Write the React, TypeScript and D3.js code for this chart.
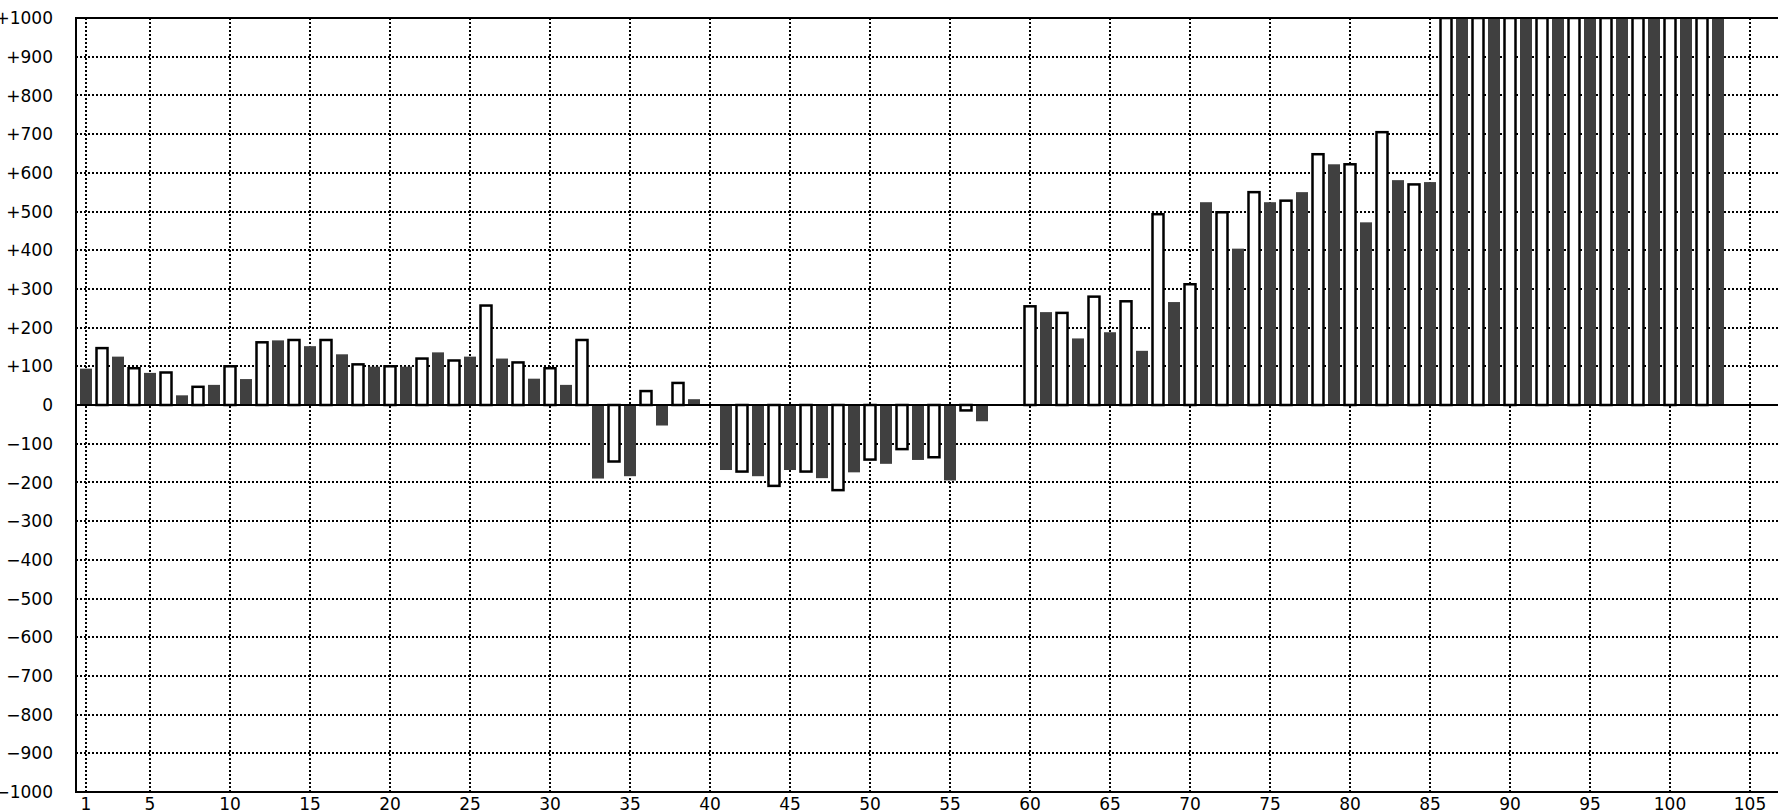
import React from "react";
import * as d3 from "d3";

// Odd positions (1, 3, 5, ... 103) – dark filled bars
const darkPositions: number[] = [
  1, 3, 5, 7, 9, 11, 13, 15, 17, 19, 21, 23, 25, 27, 29, 31, 33, 35, 37, 39, 41, 43, 45, 47, 49, 51,
  53, 55, 57, 59, 61, 63, 65, 67, 69, 71, 73, 75, 77, 79, 81, 83, 85, 87, 89, 91, 93, 95, 97, 99, 101, 103,
];
const darkValues: (number | null)[] = [
  94, 125, 83, 25, 52, 67, 167, 152, 131, 99, 99, 136, 125, 120, 68, 52, -190, -184, -53, 15, -168, -184,
  -168, -189, -174, -152, -142, -195, -42, null, 240, 172, 188, 140, 266, 524, 404, 524, 550, 622, 472, 581,
  576, 1000, 1000, 1000, 1000, 1000, 1000, 1000, 1000, 1000,
];

// Even positions (2, 4, 6, ... 102) – outlined white bars
const lightPositions: number[] = [
  2, 4, 6, 8, 10, 12, 14, 16, 18, 20, 22, 24, 26, 28, 30, 32, 34, 36, 38, 40, 42, 44, 46, 48, 50, 52,
  54, 56, 58, 60, 62, 64, 66, 68, 70, 72, 74, 76, 78, 80, 82, 84, 86, 88, 90, 92, 94, 96, 98, 100, 102,
];
const lightValues: (number | null)[] = [
  147, 95, 84, 47, 100, 162, 168, 168, 105, 100, 120, 115, 257, 110, 95, 168, -146, 36, 57, null, -172, -209,
  -172, -220, -141, -114, -135, -14, null, 255, 238, 280, 268, 493, 312, 498, 550, 528, 648, 622, 705, 570,
  1000, 1000, 1000, 1000, 1000, 1000, 1000, 1000, 1000,
];

const xTicks: number[] = [1, 5, 10, 15, 20, 25, 30, 35, 40, 45, 50, 55, 60, 65, 70, 75, 80, 85, 90, 95, 100, 105];
const yTicks: number[] = [
  -1000, -900, -800, -700, -600, -500, -400, -300, -200, -100, 0, 100, 200, 300, 400, 500, 600, 700, 800, 900, 1000,
];

const W = 1778;
const H = 812;
const plotLeft = 76;
const plotRight = 1800;
const plotTop = 18;
const plotBottom = 792;
const FONT = "'DejaVu Sans', Verdana, sans-serif";
const DARK = "#404040";

function fmtY(v: number): string {
  if (v > 0) return "+" + v;
  if (v < 0) return "\u2212" + Math.abs(v);
  return "0";
}

export default function App() {
  const x = d3.scaleLinear().domain([0, 105]).range([70, 1750]);
  const y = d3.scaleLinear().domain([-1000, 1000]).range([plotBottom, plotTop]);
  const y0 = y(0);
  const darkW = 12;
  const lightW = 11;

  const dark = darkPositions
    .map((p, i) => ({ p, v: darkValues[i] }))
    .filter((d) => d.v !== null) as { p: number; v: number }[];
  const light = lightPositions
    .map((p, i) => ({ p, v: lightValues[i] }))
    .filter((d) => d.v !== null) as { p: number; v: number }[];

  return (
    <svg
      width={W}
      height={H}
      style={{ position: "absolute", left: 0, top: 0, background: "#fff" }}
    >
      <defs>
        <clipPath id="plotclip">
          <rect x={plotLeft} y={plotTop} width={plotRight - plotLeft} height={plotBottom - plotTop} />
        </clipPath>
      </defs>
      <rect x={0} y={0} width={W} height={H} fill="#fff" />
      {/* grid */}
      <g stroke="#000" strokeWidth={2} strokeDasharray="2,2" fill="none">
        {yTicks
          .filter((t) => t !== 0 && Math.abs(t) !== 1000)
          .map((t) => (
            <line key={"h" + t} x1={plotLeft} x2={plotRight} y1={Math.round(y(t))} y2={Math.round(y(t))} />
          ))}
        {xTicks.map((t) => (
          <line key={"v" + t} x1={x(t)} x2={x(t)} y1={plotTop} y2={plotBottom} />
        ))}
      </g>
      {/* bars */}
      <g clipPath="url(#plotclip)">
        {dark.map((d) => (
          <rect
            key={"d" + d.p}
            x={x(d.p) - darkW / 2}
            width={darkW}
            y={Math.min(y(d.v), y0)}
            height={Math.abs(y(d.v) - y0)}
            fill={DARK}
          />
        ))}
        {light.map((d) => (
          <rect
            key={"l" + d.p}
            x={x(d.p) - lightW / 2}
            width={lightW}
            y={Math.min(y(d.v), y0)}
            height={Math.abs(y(d.v) - y0)}
            fill="#fff"
            stroke="#000"
            strokeWidth={2.5}
          />
        ))}
      </g>
      {/* axes / frame */}
      <g stroke="#000" strokeWidth={2} fill="none">
        <line x1={plotLeft} x2={plotRight} y1={y0} y2={y0} />
        <line x1={plotLeft} x2={plotRight} y1={plotTop} y2={plotTop} />
        <line x1={plotLeft} x2={plotRight} y1={plotBottom} y2={plotBottom} />
        <line x1={plotLeft} x2={plotLeft} y1={plotTop - 1} y2={plotBottom + 1} />
      </g>
      {/* y labels */}
      <g fontFamily={FONT} fontSize={17} fill="#000" textAnchor="end">
        {yTicks.map((t) => (
          <text key={"yl" + t} x={53} y={y(t)} dy="0.36em">
            {fmtY(t)}
          </text>
        ))}
      </g>
      {/* x labels */}
      <g fontFamily={FONT} fontSize={17} fill="#000" textAnchor="middle">
        {xTicks.map((t) => (
          <text key={"xl" + t} x={x(t)} y={810}>
            {t}
          </text>
        ))}
      </g>
    </svg>
  );
}
